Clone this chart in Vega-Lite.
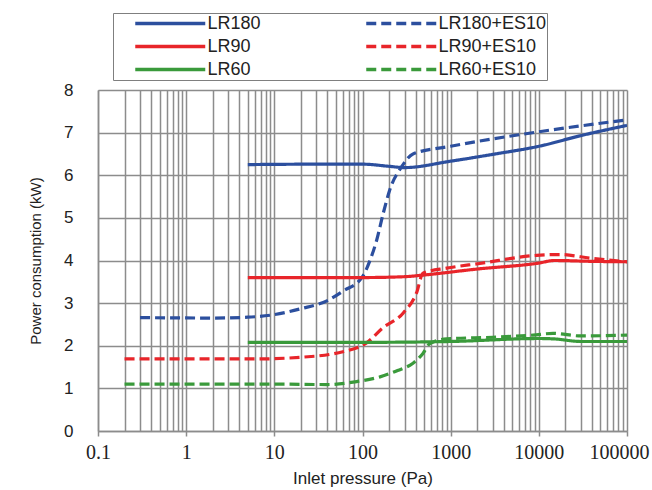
{
  "$schema": "https://vega.github.io/schema/vega-lite/v6.json",
  "width": 529,
  "height": 341,
  "autosize": {"type": "none"},
  "padding": {"left": 98, "top": 90, "right": 25, "bottom": 59},
  "background": "white",
  "config": {
    "view": {"stroke": null},
    "font": "Liberation Sans",
    "legend": {
      "orient": "none",
      "legendX": 15,
      "legendY": -77,
      "columns": 2,
      "direction": "horizontal",
      "strokeColor": "#7f7f7f",
      "fillColor": "white",
      "padding": 0,
      "symbolType": "stroke",
      "symbolSize": 4900,
      "symbolStrokeWidth": 3.5,
      "symbolOffset": 20.25,
      "clipHeight": 21,
      "labelFont": "Liberation Sans",
      "labelFontSize": 18,
      "labelColor": "#222222",
      "labelOffset": 0.25,
      "rowPadding": 2,
      "columnPadding": 83,
      "labelLimit": 400
    }
  },
  "data": {
    "values": [
      {"series": "LR180", "p": 5, "kw": 6.25},
      {"series": "LR180", "p": 30, "kw": 6.26},
      {"series": "LR180", "p": 100, "kw": 6.26},
      {"series": "LR180", "p": 200, "kw": 6.21},
      {"series": "LR180", "p": 300, "kw": 6.18},
      {"series": "LR180", "p": 1000, "kw": 6.33},
      {"series": "LR180", "p": 3000, "kw": 6.49},
      {"series": "LR180", "p": 10000, "kw": 6.68},
      {"series": "LR180", "p": 30000, "kw": 6.93},
      {"series": "LR180", "p": 100000, "kw": 7.17},

      {"series": "LR180+ES10", "p": 0.3, "kw": 2.66},
      {"series": "LR180+ES10", "p": 2, "kw": 2.65},
      {"series": "LR180+ES10", "p": 5, "kw": 2.67},
      {"series": "LR180+ES10", "p": 10, "kw": 2.73},
      {"series": "LR180+ES10", "p": 20, "kw": 2.87},
      {"series": "LR180+ES10", "p": 40, "kw": 3.06},
      {"series": "LR180+ES10", "p": 60, "kw": 3.28},
      {"series": "LR180+ES10", "p": 100, "kw": 3.62},
      {"series": "LR180+ES10", "p": 122, "kw": 4.01},
      {"series": "LR180+ES10", "p": 145, "kw": 4.48},
      {"series": "LR180+ES10", "p": 172, "kw": 5.11},
      {"series": "LR180+ES10", "p": 204, "kw": 5.66},
      {"series": "LR180+ES10", "p": 278, "kw": 6.2},
      {"series": "LR180+ES10", "p": 374, "kw": 6.5},
      {"series": "LR180+ES10", "p": 1000, "kw": 6.68},
      {"series": "LR180+ES10", "p": 10000, "kw": 7.02},
      {"series": "LR180+ES10", "p": 100000, "kw": 7.3},

      {"series": "LR90", "p": 5, "kw": 3.6},
      {"series": "LR90", "p": 100, "kw": 3.6},
      {"series": "LR90", "p": 300, "kw": 3.62},
      {"series": "LR90", "p": 500, "kw": 3.66},
      {"series": "LR90", "p": 2000, "kw": 3.8},
      {"series": "LR90", "p": 10000, "kw": 3.94},
      {"series": "LR90", "p": 15000, "kw": 4.0},
      {"series": "LR90", "p": 40000, "kw": 3.98},
      {"series": "LR90", "p": 100000, "kw": 3.97},

      {"series": "LR90+ES10", "p": 0.2, "kw": 1.69},
      {"series": "LR90+ES10", "p": 1, "kw": 1.69},
      {"series": "LR90+ES10", "p": 6, "kw": 1.69},
      {"series": "LR90+ES10", "p": 20, "kw": 1.73},
      {"series": "LR90+ES10", "p": 60, "kw": 1.86},
      {"series": "LR90+ES10", "p": 110, "kw": 2.06},
      {"series": "LR90+ES10", "p": 170, "kw": 2.42},
      {"series": "LR90+ES10", "p": 290, "kw": 2.77},
      {"series": "LR90+ES10", "p": 410, "kw": 3.24},
      {"series": "LR90+ES10", "p": 485, "kw": 3.7},
      {"series": "LR90+ES10", "p": 900, "kw": 3.82},
      {"series": "LR90+ES10", "p": 2140, "kw": 3.93},
      {"series": "LR90+ES10", "p": 9400, "kw": 4.12},
      {"series": "LR90+ES10", "p": 17400, "kw": 4.14},
      {"series": "LR90+ES10", "p": 40000, "kw": 4.05},
      {"series": "LR90+ES10", "p": 100000, "kw": 3.97},

      {"series": "LR60", "p": 5, "kw": 2.08},
      {"series": "LR60", "p": 100, "kw": 2.08},
      {"series": "LR60", "p": 1000, "kw": 2.1},
      {"series": "LR60", "p": 10000, "kw": 2.17},
      {"series": "LR60", "p": 15000, "kw": 2.16},
      {"series": "LR60", "p": 30000, "kw": 2.1},
      {"series": "LR60", "p": 100000, "kw": 2.1},

      {"series": "LR60+ES10", "p": 0.2, "kw": 1.1},
      {"series": "LR60+ES10", "p": 1, "kw": 1.1},
      {"series": "LR60+ES10", "p": 10, "kw": 1.1},
      {"series": "LR60+ES10", "p": 40, "kw": 1.09},
      {"series": "LR60+ES10", "p": 86, "kw": 1.16},
      {"series": "LR60+ES10", "p": 158, "kw": 1.27},
      {"series": "LR60+ES10", "p": 250, "kw": 1.42},
      {"series": "LR60+ES10", "p": 374, "kw": 1.59},
      {"series": "LR60+ES10", "p": 485, "kw": 1.82},
      {"series": "LR60+ES10", "p": 580, "kw": 2.05},
      {"series": "LR60+ES10", "p": 900, "kw": 2.16},
      {"series": "LR60+ES10", "p": 3000, "kw": 2.2},
      {"series": "LR60+ES10", "p": 8600, "kw": 2.25},
      {"series": "LR60+ES10", "p": 14500, "kw": 2.29},
      {"series": "LR60+ES10", "p": 30000, "kw": 2.23},
      {"series": "LR60+ES10", "p": 100000, "kw": 2.25}
    ]
  },
  "mark": {"type": "line", "interpolate": "monotone", "strokeWidth": 3.2, "clip": true},
  "encoding": {
    "x": {
      "field": "p",
      "type": "quantitative",
      "scale": {"type": "log", "domain": [0.1, 100000], "nice": false},
      "axis": {
        "title": "Inlet pressure (Pa)",
        "titleFont": "Liberation Sans",
        "titleFontSize": 17,
        "titleFontWeight": "normal",
        "titleColor": "#222222",
        "titlePadding": 8,
        "values": [0.1,0.2,0.3,0.4,0.5,0.6,0.7,0.8,0.9,1,2,3,4,5,6,7,8,9,10,20,30,40,50,60,70,80,90,100,200,300,400,500,600,700,800,900,1000,2000,3000,4000,5000,6000,7000,8000,9000,10000,20000,30000,40000,50000,60000,70000,80000,90000,100000],
        "labelExpr": "indexof([0.1,1,10,100,1000,10000,100000], datum.value) >= 0 ? (datum.value < 1 ? '0.1' : format(datum.value, 'd')) : ''",
        "labelFont": "Liberation Serif",
        "labelFontSize": 20,
        "labelColor": "#222222",
        "labelPadding": 6,
        "labelOffset": {"condition": {"test": "datum.value == 100000", "value": -8}, "value": 0},
        "labelOverlap": false,
        "labelBound": false,
        "labelFlush": false,
        "grid": true,
        "gridColor": "#8c8c8c",
        "gridWidth": 1.5,
        "domainColor": "#8c8c8c",
        "domainWidth": 1.5,
        "tickColor": "#8c8c8c",
        "tickWidth": 1.5,
        "tickSize": 5,
        "tickOpacity": {"condition": {"test": "indexof([0.1,1,10,100,1000,10000,100000], datum.value) >= 0", "value": 1}, "value": 0}
      }
    },
    "y": {
      "field": "kw",
      "type": "quantitative",
      "scale": {"domain": [0, 8], "nice": false},
      "axis": {
        "title": "Power consumption  (kW)",
        "titleFont": "Liberation Sans",
        "titleFontSize": 15,
        "titleFontWeight": "normal",
        "titleColor": "#222222",
        "titlePadding": 20,
        "values": [0,1,2,3,4,5,6,7,8],
        "labelFont": "Liberation Sans",
        "labelFontSize": 17,
        "labelColor": "#222222",
        "labelPadding": 25,
        "ticks": false,
        "grid": true,
        "gridColor": "#8c8c8c",
        "gridWidth": 1.5,
        "domainColor": "#8c8c8c",
        "domainWidth": 1.5
      }
    },
    "color": {
      "field": "series",
      "type": "nominal",
      "scale": {
        "domain": ["LR180", "LR180+ES10", "LR90", "LR90+ES10", "LR60", "LR60+ES10"],
        "range": ["#2c4f9e", "#2c4f9e", "#e8252a", "#e8252a", "#3a9a3b", "#3a9a3b"]
      },
      "legend": {"title": null}
    },
    "strokeDash": {
      "field": "series",
      "type": "nominal",
      "scale": {
        "domain": ["LR180", "LR180+ES10", "LR90", "LR90+ES10", "LR60", "LR60+ES10"],
        "range": [[1, 0], [10, 5], [1, 0], [10, 5], [1, 0], [10, 5]]
      },
      "legend": {"title": null}
    }
  }
}
